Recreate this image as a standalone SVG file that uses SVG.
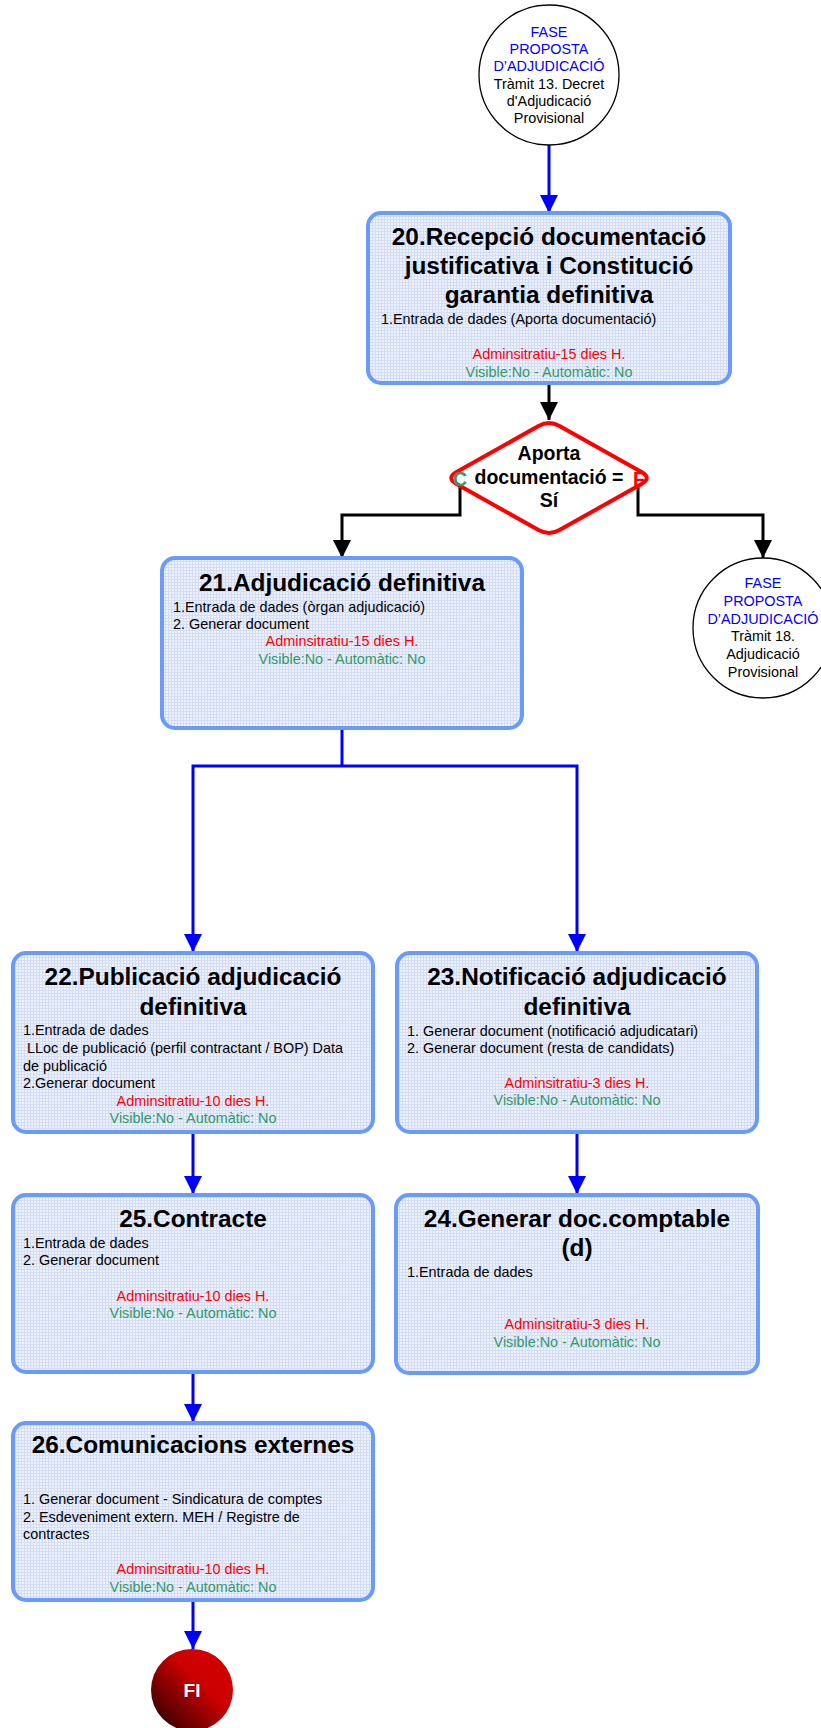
<svg xmlns="http://www.w3.org/2000/svg" width="821" height="1728" viewBox="0 0 821 1728">
<defs>
<pattern id="grid" width="3" height="3" patternUnits="userSpaceOnUse">
<rect width="3" height="3" fill="#EEF2FD"/>
<path d="M0,0.5 H3 M0.5,0 V3" stroke="#D3DDF6" stroke-width="1"/>
</pattern>
<linearGradient id="fig" x1="0" y1="1" x2="1" y2="0">
<stop offset="0" stop-color="#1a0000"/>
<stop offset="0.6" stop-color="#CC0000"/>
<stop offset="1" stop-color="#D40000"/>
</linearGradient>
<marker id="ab" viewBox="0 0 18 18" refX="18" refY="9" markerWidth="18" markerHeight="18" markerUnits="userSpaceOnUse" orient="auto">
<path d="M0,0 L18,9 L0,18 Z" fill="#0000FF"/>
</marker>
<marker id="ak" viewBox="0 0 18 18" refX="18" refY="9" markerWidth="18" markerHeight="18" markerUnits="userSpaceOnUse" orient="auto">
<path d="M0,0 L18,9 L0,18 Z" fill="#000000"/>
</marker>
</defs>
<style>
text{font-family:"Liberation Sans",Arial,sans-serif;}
.box{fill:url(#grid);stroke:#6A9BF8;stroke-width:4;}
.t{font-size:24.4px;font-weight:bold;fill:#000;text-anchor:middle;}
.b{font-size:14.4px;fill:#000;}
.r{font-size:14.4px;fill:#FF0000;text-anchor:middle;}
.g{font-size:14.4px;fill:#339966;text-anchor:middle;}
.cb{font-size:14.4px;fill:#0000FF;text-anchor:middle;}
.ck{font-size:14.4px;fill:#000;text-anchor:middle;}
.circ{fill:#FFFFFF;stroke:#000;stroke-width:1.3;}
.bl{fill:none;stroke:#0000FF;stroke-width:3;marker-end:url(#ab);}
.bl0{fill:none;stroke:#0000FF;stroke-width:3;}
.kl{fill:none;stroke:#000;stroke-width:3;marker-end:url(#ak);}
.d{font-size:19.5px;font-weight:bold;fill:#000;text-anchor:middle;}
</style>

<g id="connectors">
<path class="bl" d="M549,145 V213"/>
<path class="kl" d="M549,385 V420"/>
<path class="kl" d="M460,486 V515 H342 V558"/>
<path class="kl" d="M638,486 V515 H763 V558"/>
<path class="bl0" d="M342,730 V766"/>
<path class="bl" d="M342,766 H193 V952"/>
<path class="bl" d="M342,766 H577 V952"/>
<path class="bl" d="M193,1134 V1194"/>
<path class="bl" d="M577,1134 V1194"/>
<path class="bl" d="M193,1374 V1422"/>
<path class="bl" d="M193,1602 V1649"/>
</g>

<g id="start-circle">
<circle class="circ" cx="549" cy="75" r="70"/>
<text class="cb" x="549" y="37">FASE</text>
<text class="cb" x="549" y="54.2">PROPOSTA</text>
<text class="cb" x="549" y="71.4">D’ADJUDICACIÓ</text>
<text class="ck" x="549" y="88.6">Tràmit 13. Decret</text>
<text class="ck" x="549" y="105.8">d'Adjudicació</text>
<text class="ck" x="549" y="123">Provisional</text>
</g>

<g id="node20">
<rect class="box" x="368" y="213" width="362" height="170" rx="13"/>
<text class="t" x="549" y="245">20.Recepció documentació</text>
<text class="t" x="549" y="274">justificativa i Constitució</text>
<text class="t" x="549" y="303">garantia definitiva</text>
<text class="b" x="381" y="324">1.Entrada de dades (Aporta documentació)</text>
<text class="r" x="549" y="359">Adminsitratiu-15 dies H.</text>
<text class="g" x="549" y="377">Visible:No - Automàtic: No</text>
</g>

<g id="decision">
<path d="M538.5,425.9 Q549,420 559.5,425.9 L641.5,472.1 Q652,478 641.5,483.9 L559.5,530.1 Q549,536 538.5,530.1 L456.5,483.9 Q446,478 456.5,472.1 Z" fill="#FFFFFF" stroke="#FF0000" stroke-width="4"/>
<text class="d" x="549" y="460">Aporta</text>
<text class="d" x="549" y="484">documentació =</text>
<text class="d" x="549" y="507">Sí</text>
<text class="d" x="460" y="486" style="fill:#339966">C</text>
<text class="d" x="639" y="486" style="fill:#FF0000">F</text>
</g>

<g id="end-circle-18">
<circle class="circ" cx="763" cy="628" r="70"/>
<text class="cb" x="763" y="588">FASE</text>
<text class="cb" x="763" y="605.8">PROPOSTA</text>
<text class="cb" x="763" y="623.6">D’ADJUDICACIÓ</text>
<text class="ck" x="763" y="641.4">Tràmit 18.</text>
<text class="ck" x="763" y="659.2">Adjudicació</text>
<text class="ck" x="763" y="677">Provisional</text>
</g>

<g id="node21">
<rect class="box" x="162" y="558" width="360" height="170" rx="13"/>
<text class="t" x="342" y="591">21.Adjudicació definitiva</text>
<text class="b" x="173" y="612">1.Entrada de dades (òrgan adjudicació)</text>
<text class="b" x="173" y="629">2. Generar document</text>
<text class="r" x="342" y="646">Adminsitratiu-15 dies H.</text>
<text class="g" x="342" y="664">Visible:No - Automàtic: No</text>
</g>

<g id="node22">
<rect class="box" x="13" y="953" width="360" height="179" rx="13"/>
<text class="t" x="193" y="985">22.Publicació adjudicació</text>
<text class="t" x="193" y="1015">definitiva</text>
<text class="b" x="23" y="1035">1.Entrada de dades</text>
<text class="b" x="23" y="1053" xml:space="preserve"> LLoc de publicació (perfil contractant / BOP) Data</text>
<text class="b" x="23" y="1071">de publicació</text>
<text class="b" x="23" y="1088">2.Generar document</text>
<text class="r" x="193" y="1106">Adminsitratiu-10 dies H.</text>
<text class="g" x="193" y="1123">Visible:No - Automàtic: No</text>
</g>

<g id="node23">
<rect class="box" x="397" y="953" width="360" height="179" rx="13"/>
<text class="t" x="577" y="985">23.Notificació adjudicació</text>
<text class="t" x="577" y="1015">definitiva</text>
<text class="b" x="407" y="1036">1. Generar document (notificació adjudicatari)</text>
<text class="b" x="407" y="1053">2. Generar document (resta de candidats)</text>
<text class="r" x="577" y="1088">Adminsitratiu-3 dies H.</text>
<text class="g" x="577" y="1105">Visible:No - Automàtic: No</text>
</g>

<g id="node25">
<rect class="box" x="13" y="1195" width="360" height="177" rx="13"/>
<text class="t" x="193" y="1227">25.Contracte</text>
<text class="b" x="23" y="1248">1.Entrada de dades</text>
<text class="b" x="23" y="1265">2. Generar document</text>
<text class="r" x="193" y="1301">Adminsitratiu-10 dies H.</text>
<text class="g" x="193" y="1318">Visible:No - Automàtic: No</text>
</g>

<g id="node24">
<rect class="box" x="396" y="1195" width="362" height="178" rx="13"/>
<text class="t" x="577" y="1227">24.Generar doc.comptable</text>
<text class="t" x="577" y="1256">(d)</text>
<text class="b" x="407" y="1277">1.Entrada de dades</text>
<text class="r" x="577" y="1329">Adminsitratiu-3 dies H.</text>
<text class="g" x="577" y="1347">Visible:No - Automàtic: No</text>
</g>

<g id="node26">
<rect class="box" x="13" y="1423" width="360" height="177" rx="13"/>
<text class="t" x="193" y="1453">26.Comunicacions externes</text>
<text class="b" x="23" y="1504">1. Generar document - Sindicatura de comptes</text>
<text class="b" x="23" y="1522">2. Esdeveniment extern. MEH / Registre de</text>
<text class="b" x="23" y="1539">contractes</text>
<text class="r" x="193" y="1574">Adminsitratiu-10 dies H.</text>
<text class="g" x="193" y="1592">Visible:No - Automàtic: No</text>
</g>

<g id="fi">
<circle cx="192" cy="1690" r="41" fill="url(#fig)"/>
<text x="192" y="1697" style="font-size:19px;font-weight:bold;fill:#FFFFFF;text-anchor:middle">FI</text>
</g>
</svg>
